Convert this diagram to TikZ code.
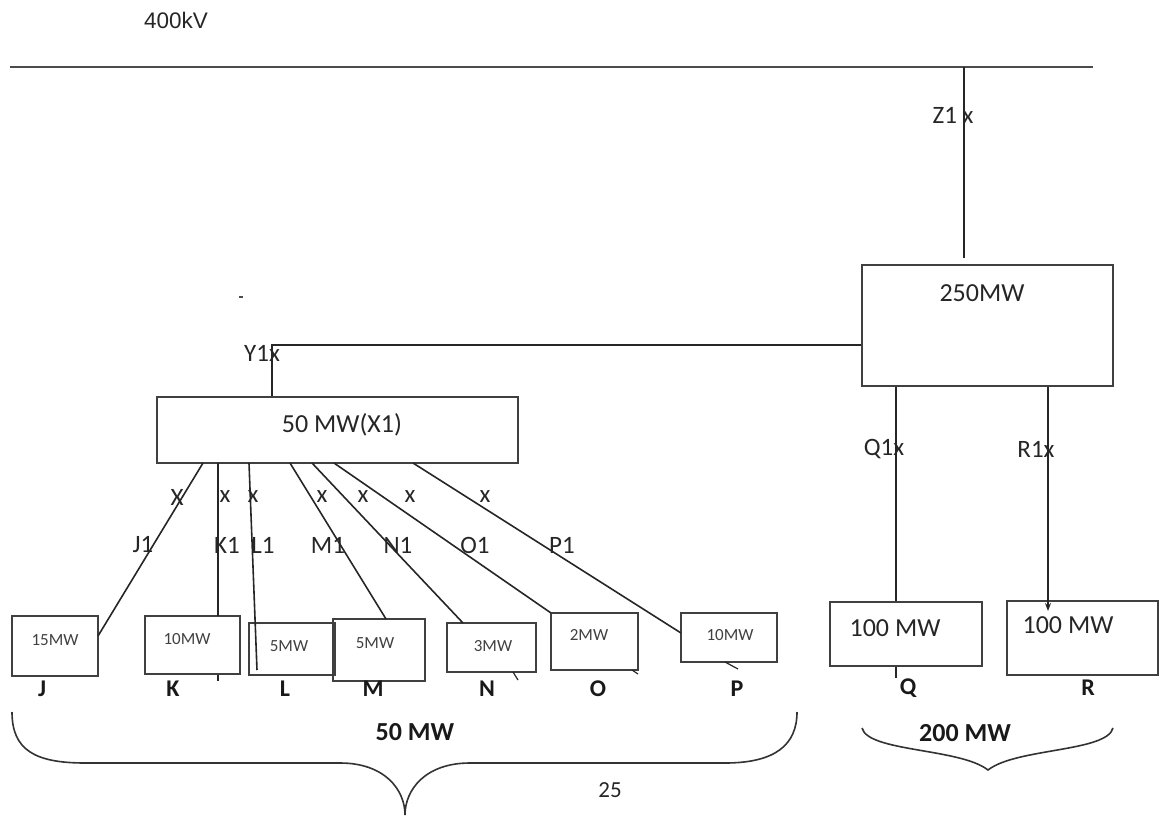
\documentclass[tikz,border=0pt]{standalone}
\usepackage{fontspec}
\setmainfont{Carlito}
\newfontfamily\arialfont{Liberation Sans}
\usetikzlibrary{arrows.meta}

\begin{document}
\begin{tikzpicture}[x=1pt,y=-1pt,
  feeder/.style={draw=black!85, line width=1.6pt},
  unitbox/.style={draw=black!75, line width=2pt, inner sep=0pt},
  lbl/.style={font=\fontsize{25}{29}\selectfont, text=black!85, inner sep=0pt},
  cell/.style={font=\fontsize{17}{20}\selectfont, text=black!75, inner sep=0pt},
  tag/.style={font=\bfseries\fontsize{24}{28}\selectfont, text=black!90, inner sep=0pt},
  brace/.style={draw=black!80, line width=1.6pt}]
\useasboundingbox (0,0) rectangle (1160,819);
% bus
\node[font={\arialfont\fontsize{22.5}{26}\selectfont}, text=black!85, inner sep=0pt] (kv) at (176,20) {400kV};
\coordinate (busW) at (10,67);
\coordinate (busE) at (1093,67);
\draw[draw=black!70, line width=2.2pt] (busW) -- (busE);
% units
\node[unitbox, minimum width=251pt, minimum height=121pt] (g250) at (987.5,325.5) {};
\node[unitbox, minimum width=361pt, minimum height=66pt] (X1) at (337.5,430) {};
\node[unitbox, minimum width=152pt, minimum height=64pt] (Qb) at (906,634) {};
\node[unitbox, minimum width=151pt, minimum height=74pt] (Rb) at (1082.5,638) {};
\node[unitbox, minimum width=86pt, minimum height=60pt] (Jb) at (55,646) {};
\node[unitbox, minimum width=95pt, minimum height=58pt] (Kb) at (192.5,645) {};
\node[unitbox, minimum width=86pt, minimum height=52pt] (Lb) at (292,649) {};
\node[unitbox, minimum width=92pt, minimum height=62pt] (Mb) at (379,650) {};
\node[unitbox, minimum width=89pt, minimum height=49pt] (Nb) at (491.5,647.5) {};
\node[unitbox, minimum width=87pt, minimum height=57pt] (Ob) at (594.5,641.5) {};
\node[unitbox, minimum width=96pt, minimum height=49pt] (Pb) at (729,637.5) {};
% unit ratings
\node[lbl, font=\fontsize{26}{30}\selectfont] (t250) at (982,293) {250MW};
\node[lbl, font=\fontsize{26}{30}\selectfont] (tX1) at (342,425) {50 MW(X1)};
\node[lbl, font=\fontsize{26}{30}\selectfont] (tQ) at (895,628) {100 MW};
\node[lbl, font=\fontsize{26}{30}\selectfont] (tR) at (1068,625) {100 MW};
\node[cell] (tJ) at (55,640) {15MW};
\node[cell] (tK) at (187,639) {10MW};
\node[cell] (tL) at (289,646) {5MW};
\node[cell] (tM) at (375,643) {5MW};
\node[cell] (tN) at (493,646) {3MW};
\node[cell] (tO) at (589,635) {2MW};
\node[cell] (tP) at (730,635) {10MW};
% tie lines
\coordinate (zEnd) at (964,258);
\coordinate (yTap) at (272,345);
\coordinate (q1) at (896,0);
\coordinate (r1) at (1048,0);
\coordinate (rEnd) at (1048,611);
\draw[feeder] (964,0 |- busW) -- (zEnd);
\draw[feeder] (g250.west |- yTap) -- (yTap) -- (yTap |- X1.north);
\draw[feeder] (q1 |- g250.south) -- (q1 |- Qb.north);
\draw[feeder, -{Stealth[length=8pt,width=6pt]}] (r1 |- g250.south) -- (rEnd);
\node[lbl] (lZ1) at (953,115) {Z1 x};
\node[lbl] (lY1) at (262,353) {Y1x};
\node[lbl] (lQ1) at (884,449) {Q1x};
\node[lbl] (lR1) at (1036,449) {R1x};
% feeders from X1
\coordinate (jS) at (203,463);  \coordinate (jE) at (98,636);
\coordinate (kS) at (218,463);  \coordinate (kE) at (218,616);
\coordinate (lS) at (249,463);  \coordinate (lE) at (257,670);
\coordinate (mS) at (290,463);  \coordinate (mE) at (386,619);
\coordinate (nS) at (312,463);  \coordinate (nE) at (463,623);
\coordinate (oS) at (334,463);  \coordinate (oE) at (551,613);
\coordinate (pS) at (413,463);  \coordinate (pE) at (681,633);
\draw[feeder] (jS) -- (jE);
\draw[feeder] (kS) -- (kE);
\draw[feeder] (lS) -- (lE);
\draw[feeder] (mS) -- (mE);
\draw[feeder] (nS) -- (nE);
\draw[feeder] (oS) -- (oE);
\draw[feeder] (pS) -- (pE);
\node[lbl] (xJ) at (177,497) {X};
\node[lbl] (xK) at (225,497) {x};
\node[lbl] (xL) at (253,497) {x};
\node[lbl] (xM) at (322,497) {x};
\node[lbl] (xN) at (363,497) {x};
\node[lbl] (xO) at (410,497) {x};
\node[lbl] (xP) at (485,497) {x};
\node[lbl] (J1) at (143,545) {J1};
\node[lbl] (K1) at (227,545) {K1};
\node[lbl] (L1) at (263,545) {L1};
\node[lbl] (M1) at (328,545) {M1};
\node[lbl] (N1) at (398,545) {N1};
\node[lbl] (O1) at (475,545) {O1};
\node[lbl] (P1) at (562,545) {P1};
% stubs below boxes
\draw[feeder, line width=1.2pt] (Kb.south -| kS) -- +(0,6);
\draw[feeder, line width=1.2pt] (Qb.south -| q1) -- +(0,11);
\draw[feeder, line width=1.2pt] (513,672) -- (518,680);
\draw[feeder, line width=1.2pt] (632,670) -- (638,674);
\draw[feeder, line width=1.2pt] (725,662) -- (738,669);
\draw[black!70, line width=1.2pt] (239,297) -- (243,297);
% unit names
\node[tag] (nJ) at (42,689) {J};
\node[tag] (nK) at (173,689) {K};
\node[tag] (nL) at (285,689) {L};
\node[tag] (nM) at (373,689) {M};
\node[tag] (nN) at (487,689) {N};
\node[tag] (nO) at (598,689) {O};
\node[tag] (nP) at (737,689) {P};
\node[tag] (nQ) at (908,688) {Q};
\node[tag] (nR) at (1088,688) {R};
% braces
\draw[brace] (12,712) .. controls (12,750) and (35,763) .. (85,763) -- (340,763)
  .. controls (385,763) and (405,790) .. (405,815)
  .. controls (405,790) and (425,763) .. (470,763) -- (725,763)
  .. controls (775,763) and (797,745) .. (797,712);
\draw[brace] (862,728) .. controls (868,752) and (960,748) .. (988,770)
  .. controls (1016,748) and (1107,752) .. (1113,728);
\node[tag, font=\bfseries\fontsize{26}{30}\selectfont] (sum50) at (415,732) {50 MW};
\node[tag, font=\bfseries\fontsize{26}{30}\selectfont] (sum200) at (965,733) {200 MW};
\node[lbl, font=\fontsize{23}{27}\selectfont] (n25) at (610,790) {25};
\end{tikzpicture}
\end{document}
